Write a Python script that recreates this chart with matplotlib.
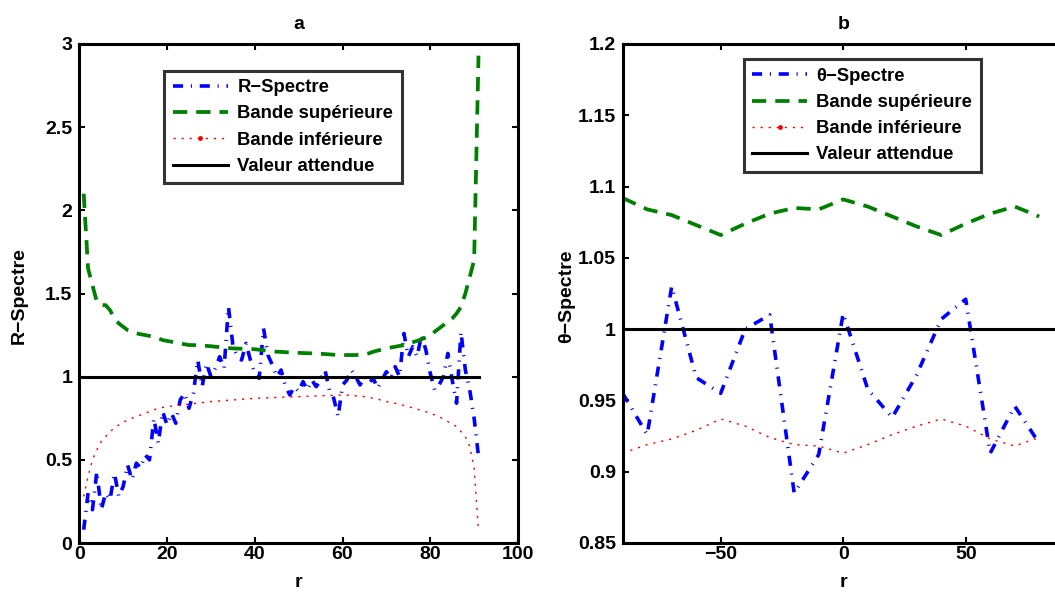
import numpy as np
import matplotlib
matplotlib.use("Agg")
import matplotlib.pyplot as plt
from matplotlib.lines import Line2D
from matplotlib.legend_handler import HandlerTuple

plt.rcParams['font.family'] = ['Liberation Sans', 'DejaVu Sans']
plt.rcParams['font.weight'] = 'bold'

# ---------------- Panel a data ----------------
r_a = np.arange(1, 92)
r_spectre = [0.08, 0.30, 0.20, 0.43, 0.20, 0.30, 0.26, 0.42, 0.28, 0.34,
             0.47, 0.38, 0.48, 0.45, 0.53, 0.50, 0.75, 0.60, 0.79, 0.71,
             0.78, 0.72, 0.86, 0.90, 0.81, 0.90, 1.10, 0.94, 1.08, 1.00,
             1.05, 1.12, 1.05, 1.42, 1.19, 1.12, 1.10, 1.20, 1.10, 1.02,
             0.99, 1.29, 1.13, 1.07, 1.00, 1.04, 0.94, 0.89, 0.94, 0.91,
             0.97, 0.92, 0.98, 0.94, 0.98, 1.04, 0.92, 0.87, 0.76, 0.95,
             0.98, 1.04, 1.00, 0.95, 1.00, 0.96, 0.99, 0.93, 0.98, 1.03,
             0.99, 1.06, 1.00, 1.26, 1.12, 1.18, 1.12, 1.25, 1.16, 1.02,
             0.92, 0.95, 1.00, 1.14, 0.98, 0.84, 1.27, 1.04, 0.92, 0.75,
             0.52]
upper_a = [2.10, 1.65, 1.55, 1.45, 1.43, 1.43, 1.40, 1.35, 1.32, 1.30,
           1.28, 1.27, 1.26, 1.255, 1.25, 1.245, 1.24, 1.23, 1.22, 1.215,
           1.21, 1.205, 1.20, 1.195, 1.19, 1.19, 1.187, 1.185, 1.185, 1.183,
           1.18, 1.178, 1.175, 1.172, 1.17, 1.169, 1.168, 1.167, 1.166, 1.165,
           1.162, 1.159, 1.156, 1.153, 1.15, 1.149, 1.147, 1.146, 1.144, 1.143,
           1.142, 1.141, 1.14, 1.138, 1.137, 1.136, 1.134, 1.132, 1.131, 1.13,
           1.13, 1.13, 1.13, 1.132, 1.135, 1.14, 1.15, 1.157, 1.163, 1.17,
           1.175, 1.18, 1.185, 1.19, 1.20, 1.207, 1.215, 1.225, 1.235, 1.25,
           1.27, 1.29, 1.31, 1.33, 1.35, 1.38, 1.42, 1.50, 1.60, 1.70,
           2.93]
lower_a = [0.28, 0.40, 0.50, 0.56, 0.61, 0.64, 0.67, 0.69, 0.71, 0.725,
           0.74, 0.75, 0.76, 0.77, 0.78, 0.79, 0.80, 0.81, 0.815, 0.82,
           0.823, 0.826, 0.829, 0.832, 0.835, 0.838, 0.841, 0.844, 0.847, 0.85,
           0.852, 0.854, 0.856, 0.858, 0.86, 0.862, 0.864, 0.866, 0.868, 0.87,
           0.871, 0.872, 0.873, 0.874, 0.875, 0.876, 0.877, 0.878, 0.879, 0.88,
           0.881, 0.882, 0.883, 0.884, 0.885, 0.886, 0.887, 0.888, 0.889, 0.89,
           0.889, 0.887, 0.885, 0.883, 0.88, 0.875, 0.87, 0.865, 0.857, 0.85,
           0.845, 0.84, 0.833, 0.827, 0.82, 0.812, 0.805, 0.797, 0.789, 0.78,
           0.77, 0.76, 0.745, 0.73, 0.715, 0.70, 0.67, 0.64, 0.58, 0.45,
           0.07]
ref_x_a = [0, 91]
ref_y_a = [1, 1]

# ---------------- Panel b data ----------------
theta_b = np.arange(-90, 81, 10)
theta_spectre = [0.955, 0.926, 1.030, 0.966, 0.955, 1.000, 1.010, 0.885, 0.912,
                 1.011, 0.958, 0.938, 0.968, 1.007, 1.021, 0.913, 0.946, 0.920]
upper_b = [1.092, 1.084, 1.080, 1.073, 1.066, 1.074, 1.081, 1.085, 1.084,
           1.091, 1.086, 1.079, 1.072, 1.066, 1.074, 1.081, 1.086, 1.079]
lower_b = [0.913, 0.919, 0.923, 0.929, 0.937, 0.932, 0.924, 0.919, 0.918,
           0.913, 0.919, 0.926, 0.932, 0.937, 0.932, 0.923, 0.918, 0.924]
ref_x_b = [-90, 90]
ref_y_b = [1, 1]

labels_a = ['R\u2212Spectre', 'Bande sup\u00e9rieure', 'Bande inf\u00e9rieure', 'Valeur attendue']
labels_b = ['\u03b8\u2212Spectre', 'Bande sup\u00e9rieure', 'Bande inf\u00e9rieure', 'Valeur attendue']

W, H = 1055, 592
fig = plt.figure(figsize=(W / 100, H / 100), dpi=100)
ax1 = fig.add_axes([79.3 / W, (H - 543) / H, 438.7 / W, 499 / H])
ax2 = fig.add_axes([622.7 / W, (H - 543) / H, 441.0 / W, 499 / H])

blue_kw = dict(color='#0000ff', lw=2.6, dashes=(2.8, 2.15, 0.3, 2.15))
green_kw = dict(color='#008000', lw=2.7, dashes=(3.8, 2.4))
red_kw = dict(color='#ff0000', lw=1.0, dashes=(1.6, 4.2))
black_kw = dict(color='black', lw=2.2)

FS = 14


def style(ax):
    for sp in ax.spines.values():
        sp.set_linewidth(2.2)
    ax.tick_params(direction='in', length=4, width=1.5, top=True, right=True,
                   labelsize=FS)
    ax.tick_params(axis='x', pad=2)
    ax.tick_params(axis='y', pad=5)
    for lab in ax.get_xticklabels() + ax.get_yticklabels():
        lab.set_fontweight('bold')


def draw(ax, x, main, up, lo, rx, ry, labels, anchor):
    l1, = ax.plot(x, main, **blue_kw)
    l2, = ax.plot(x, up, **green_kw)
    l3, = ax.plot(x, lo, **red_kw)
    l4, = ax.plot(rx, ry, **black_kw)
    dot = Line2D([], [], color='#ff0000', marker='.', markersize=5, ls='none')
    leg = ax.legend([l1, l2, (l3, dot), l4], labels, loc='upper left',
                    bbox_to_anchor=anchor, fontsize=13.3, frameon=True,
                    fancybox=False, edgecolor='black', handlelength=3.0,
                    borderpad=0.45, labelspacing=0.5, handletextpad=0.5,
                    borderaxespad=0,
                    handler_map={tuple: HandlerTuple(ndivide=1, pad=0)})
    leg.get_frame().set_linewidth(2.2)
    for t in leg.get_texts():
        t.set_fontweight('bold')


# Panel a
draw(ax1, r_a, r_spectre, upper_a, lower_a, ref_x_a, ref_y_a, labels_a, (0.194, 0.946))
ax1.set_xlim(0, 100)
ax1.set_ylim(0, 3)
ax1.set_xticks([0, 20, 40, 60, 80, 100])
ax1.set_yticks([0, 0.5, 1, 1.5, 2, 2.5, 3])
ax1.set_yticklabels(['0', '0.5', '1', '1.5', '2', '2.5', '3'])
style(ax1)
ax1.set_title('a', fontsize=FS, fontweight='bold', pad=11)
ax1.set_xlabel('r', fontsize=FS, fontweight='bold', labelpad=8)
ax1.set_ylabel('R\u2212Spectre', fontsize=FS, fontweight='bold')
ax1.yaxis.set_label_coords(28 / W, 0.5, transform=fig.transFigure)

# Panel b
draw(ax2, theta_b, theta_spectre, upper_b, lower_b, ref_x_b, ref_y_b, labels_b, (0.274, 0.969))
ax2.set_xlim(-90, 90)
ax2.set_ylim(0.85, 1.2)
ax2.set_xticks([-50, 0, 50])
ax2.set_xticklabels(['\u221250', '0', '50'])
ax2.set_yticks([0.85, 0.9, 0.95, 1.0, 1.05, 1.1, 1.15, 1.2])
ax2.set_yticklabels(['0.85', '0.9', '0.95', '1', '1.05', '1.1', '1.15', '1.2'])
style(ax2)
ax2.set_title('b', fontsize=FS, fontweight='bold', pad=11)
ax2.set_xlabel('r', fontsize=FS, fontweight='bold', labelpad=8)
ax2.set_ylabel('\u03b8\u2212Spectre', fontsize=FS, fontweight='bold')
ax2.yaxis.set_label_coords(575 / W, 0.5, transform=fig.transFigure)

fig.savefig('out.png', dpi=100)
